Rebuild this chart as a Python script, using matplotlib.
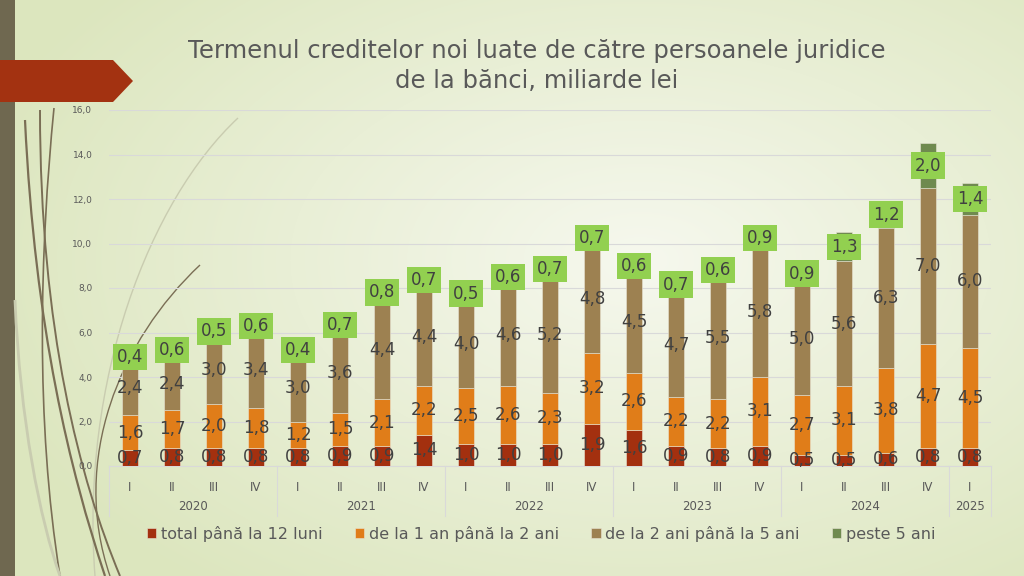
import numpy as np
import matplotlib
matplotlib.use("Agg")
from matplotlib import pyplot as plt
from matplotlib.path import Path
from matplotlib.patches import PathPatch, Polygon

# data (miliarde lei)
quarters = ["I", "II", "III", "IV"] * 5 + ["I"]
years = ["2020", "2021", "2022", "2023", "2024", "2025"]
year_sizes = [4, 4, 4, 4, 4, 1]
series_names = ["total până la 12 luni", "de la 1 an până la 2 ani",
                "de la 2 ani până la 5 ani", "peste 5 ani"]
short_term = [0.7, 0.8, 0.8, 0.8, 0.8, 0.9, 0.9, 1.4, 1.0, 1.0, 1.0, 1.9,
              1.6, 0.9, 0.8, 0.9, 0.5, 0.5, 0.6, 0.8, 0.8]
one_two = [1.6, 1.7, 2.0, 1.8, 1.2, 1.5, 2.1, 2.2, 2.5, 2.6, 2.3, 3.2,
           2.6, 2.2, 2.2, 3.1, 2.7, 3.1, 3.8, 4.7, 4.5]
two_five = [2.4, 2.4, 3.0, 3.4, 3.0, 3.6, 4.4, 4.4, 4.0, 4.6, 5.2, 4.8,
            4.5, 4.7, 5.5, 5.8, 5.0, 5.6, 6.3, 7.0, 6.0]
over_five = [0.4, 0.6, 0.5, 0.6, 0.4, 0.7, 0.8, 0.7, 0.5, 0.6, 0.7, 0.7,
             0.6, 0.7, 0.6, 0.9, 0.9, 1.3, 1.2, 2.0, 1.4]
colors = ["#a3300f", "#e07d19", "#9d8151", "#6f8a4f"]

W, H = 1024, 576
fig = plt.figure(figsize=(W / 100, H / 100), dpi=100)

# background: soft radial gradient
bg = fig.add_axes([0, 0, 1, 1], zorder=-10)
yy, xx = np.mgrid[0:H, 0:W]
r = np.sqrt(((xx - 640) / 700.0) ** 2 + ((yy - 260) / 420.0) ** 2)
r = np.clip(r, 0, 1)[..., None]
c0 = np.array([0xf6, 0xf8, 0xee]) / 255
c1 = np.array([0xdc, 0xe6, 0xbe]) / 255
bg.imshow(c0 + (c1 - c0) * r, extent=[0, W, H, 0], aspect="auto")
bg.set_xlim(0, W)
bg.set_ylim(H, 0)
bg.axis("off")

# decorations: brown side strip, red arrow, grass strokes
bg.add_patch(Polygon([[0, 0], [15, 0], [15, H], [0, H]], color="#6f6850", lw=0))
bg.add_patch(Polygon([[0, 60], [113, 60], [133, 81], [113, 102], [0, 102]],
                     color="#a33211", lw=0))

def stroke(pts, col, lw):
    path = Path(pts, [Path.MOVETO, Path.CURVE4, Path.CURVE4, Path.CURVE4])
    bg.add_patch(PathPatch(path, fc="none", ec=col, lw=lw))

stroke([(238, 118), (150, 200), (80, 380), (95, 576)], "#c9ccb0", 1.0)
stroke([(200, 265), (120, 340), (70, 460), (110, 576)], "#7a6e55", 1.0)
stroke([(54, 108), (40, 250), (35, 420), (60, 576)], "#7a6e55", 1.2)
stroke([(25, 120), (35, 330), (70, 470), (105, 576)], "#7a6e55", 1.6)
stroke([(40, 110), (40, 330), (80, 480), (120, 576)], "#7a6e55", 1.4)
stroke([(15, 300), (20, 420), (40, 520), (60, 576)], "#c9ccb0", 2.0)

# chart
ax = fig.add_axes([109 / W, 110 / H, 882 / W, 356 / H])
ax.patch.set_alpha(0)
x = np.arange(len(quarters))
txt = "#404040"
bottom = np.zeros(len(x))
for k, vals in enumerate([short_term, one_two, two_five, over_five]):
    vals = np.array(vals)
    ax.bar(x, vals, 0.4, bottom=bottom, color=colors[k], label=series_names[k],
           edgecolor="#e8e4d4", linewidth=0.4, zorder=3)
    for xi, b, v in zip(x, bottom, vals):
        s = f"{v:.1f}".replace(".", ",")
        if k == 3:
            ax.text(xi, b + v / 2, s, ha="center", va="center", fontsize=12,
                    color=txt, zorder=5,
                    bbox=dict(boxstyle="square,pad=0.25", fc="#92d050", ec="none"))
        else:
            ax.text(xi, b + v / 2, s, ha="center", va="center", fontsize=12,
                    color=txt, zorder=5)
    bottom = bottom + vals

ax.set_xlim(-0.5, len(x) - 0.5)
ax.set_ylim(0, 16)
ax.set_yticks(np.arange(0, 17, 2))
ax.set_yticklabels([f"{v:.1f}".replace(".", ",") for v in np.arange(0, 17, 2)],
                   fontsize=6.5, color="#595959")
ax.grid(axis="y", color="#d9d9d9", lw=0.8, zorder=0)
ax.set_xticks(x)
ax.set_xticklabels(quarters, fontsize=8.5, color="#595959")
ax.tick_params(axis="both", length=0)
ax.tick_params(axis="x", pad=11)
ax.tick_params(axis="y", pad=12)
for sp in ax.spines.values():
    sp.set_visible(False)

# year level of the category axis
tr = ax.get_xaxis_transform()
edges = np.concatenate([[0], np.cumsum(year_sizes)]) - 0.5
for e in edges:
    ax.plot([e, e], [0, -0.14], transform=tr, color="#d9d9d9", lw=0.8,
            clip_on=False)
ax.plot([edges[0], edges[-1]], [0, 0], transform=tr, color="#d9d9d9", lw=0.8,
        clip_on=False)
for yr, a, b in zip(years, edges[:-1], edges[1:]):
    ax.text((a + b) / 2, -0.113, yr, transform=tr, ha="center", va="center",
            fontsize=8.5, color="#595959")

ax.legend(loc="center", bbox_to_anchor=(0.49, -0.19), ncol=4, frameon=False,
          fontsize=11.5, labelcolor="#595959", handlelength=0.6,
          handleheight=0.6, handletextpad=0.3, columnspacing=2.0)

fig.text(537 / W, 1 - 66 / H,
         "Termenul creditelor noi luate de către persoanele juridice\n"
         "de la bănci, miliarde lei",
         ha="center", va="center", fontsize=17.5, color="#595959",
         linespacing=1.3)

fig.savefig("out.png", dpi=100)
